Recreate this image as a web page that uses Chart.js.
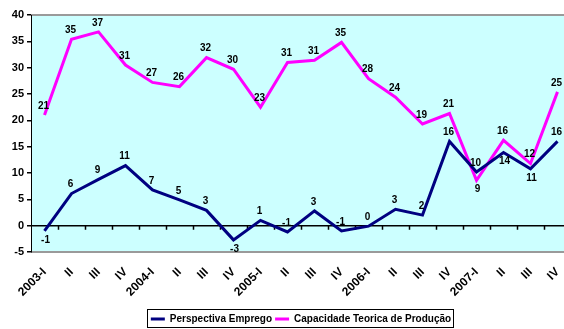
<!DOCTYPE html>
<html lang="pt">
<head>
    <meta charset="UTF-8">
    <title>Perspectiva Emprego / Capacidade Teorica de Produção</title>
    <script src="https://cdn.jsdelivr.net/npm/chart.js"></script>
    <style>
        html, body { margin: 0; padding: 0; background: #fff; overflow: hidden; }
        #wrap { width: 564px; height: 329px; overflow: hidden; }
    </style>
</head>
<body>
    <div id="wrap">
        <canvas id="chart" width="596" height="329"></canvas>
    </div>

    <script>
        // dados
        const quarters = ['2003-I', 'II', 'III', 'IV', '2004-I', 'II', 'III', 'IV', '2005-I', 'II', 'III', 'IV',
                          '2006-I', 'II', 'III', 'IV', '2007-I', 'II', 'III', 'IV'];
        const emprego = [-1.0, 6.1, 8.8, 11.4, 6.8, 4.9, 2.9, -2.7, 1.0, -1.2, 2.8, -1.0,
                         -0.1, 3.1, 2.0, 16.0, 10.2, 13.9, 10.8, 16.0];
        const capacidade = [21.0, 35.4, 36.8, 30.5, 27.2, 26.4, 31.9, 29.7, 22.5, 31.0, 31.4, 34.8,
                            27.9, 24.4, 19.3, 21.3, 8.6, 16.2, 11.8, 25.4];
        const yTicks = [-5, 0, 5, 10, 15, 20, 25, 30, 35, 40];

        Chart.defaults.font.family = "'Liberation Sans', Arial, sans-serif";
        Chart.defaults.font.weight = 'bold';
        Chart.defaults.font.size = 11;
        Chart.defaults.color = '#000';

        // fundo e moldura da area do grafico
        const plotFrame = {
            id: 'plotFrame',
            beforeDraw(chart) {
                const a = chart.chartArea, ctx = chart.ctx;
                ctx.save();
                ctx.fillStyle = '#CCFFFF';
                ctx.fillRect(a.left, a.top, a.right - a.left, a.bottom - a.top);
                ctx.strokeStyle = '#9a9a9a';
                ctx.lineWidth = 2;
                ctx.beginPath();
                ctx.moveTo(a.left, a.top); ctx.lineTo(a.right, a.top);
                ctx.moveTo(a.left, a.bottom); ctx.lineTo(a.right, a.bottom);
                ctx.stroke();
                ctx.restore();
            },
            beforeDatasetsDraw(chart) {
                // marcas do eixo das categorias sobre a linha do zero
                const x = chart.scales.x, y = chart.scales.y, ctx = chart.ctx;
                const y0 = y.getPixelForValue(0);
                ctx.save();
                ctx.strokeStyle = '#000';
                ctx.lineWidth = 1.5;
                ctx.beginPath();
                for (let i = 1; i < quarters.length; i++) {
                    const px = Math.round((x.getPixelForValue(i - 1) + x.getPixelForValue(i)) / 2) + 0.5;
                    ctx.moveTo(px, y0);
                    ctx.lineTo(px, y0 + 4);
                }
                ctx.stroke();
                ctx.restore();
            },
            afterDraw(chart) {
                // caixa da legenda
                const boxes = chart.legend.legendHitBoxes;
                if (!boxes || !boxes.length) return;
                let l = Infinity, r = -Infinity, t = Infinity, b = -Infinity;
                boxes.forEach(h => {
                    l = Math.min(l, h.left); r = Math.max(r, h.left + h.width);
                    t = Math.min(t, h.top); b = Math.max(b, h.top + h.height);
                });
                const ctx = chart.ctx;
                ctx.save();
                ctx.strokeStyle = '#000';
                ctx.lineWidth = 1;
                ctx.strokeRect(Math.round(l) - 3.5, Math.round(t) - 4.5, Math.round(r - l) + 6, Math.round(b - t) + 8);
                ctx.restore();
            }
        };

        // rotulos dos valores
        const valueLabels = {
            id: 'valueLabels',
            afterDatasetsDraw(chart) {
                const ctx = chart.ctx;
                ctx.save();
                ctx.font = "bold 10px 'Liberation Sans', Arial, sans-serif";
                ctx.fillStyle = '#000';
                ctx.textAlign = 'center';
                chart.data.datasets.forEach((ds, di) => {
                    const meta = chart.getDatasetMeta(di);
                    meta.data.forEach((pt, i) => {
                        const txt = String(Math.round(ds.data[i]));
                        if (ds.labelBelow.includes(i)) {
                            ctx.textBaseline = 'top';
                            ctx.fillText(txt, pt.x + 1, pt.y + 4);
                        } else {
                            ctx.textBaseline = 'bottom';
                            ctx.fillText(txt, pt.x - 1, pt.y - 4);
                        }
                    });
                });
                ctx.restore();
            }
        };

        new Chart(document.getElementById('chart'), {
            type: 'line',
            data: {
                labels: quarters,
                datasets: [{
                    label: 'Perspectiva Emprego',
                    data: emprego,
                    borderColor: '#000080',
                    backgroundColor: '#000080',
                    borderWidth: 3,
                    pointRadius: 0,
                    tension: 0,
                    labelBelow: [0, 7, 17, 18]
                }, {
                    label: 'Capacidade Teorica de Produção',
                    data: capacidade,
                    borderColor: '#FF00FF',
                    backgroundColor: '#FF00FF',
                    borderWidth: 3,
                    pointRadius: 0,
                    tension: 0,
                    labelBelow: [16]
                }]
            },
            options: {
                responsive: false,
                animation: false,
                layout: { padding: { top: 15, left: 0, right: 25, bottom: -5 } },
                plugins: {
                    tooltip: { enabled: false },
                    legend: {
                        position: 'bottom',
                        fullSize: false,
                        labels: {
                            boxWidth: 14,
                            boxHeight: 3,
                            padding: 3,
                            font: { size: 10, weight: 'bold' },
                            generateLabels(chart) {
                                return Chart.defaults.plugins.legend.labels.generateLabels(chart)
                                    .map(it => Object.assign(it, { lineWidth: 0 }));
                            }
                        }
                    }
                },
                scales: {
                    x: {
                        offset: true,
                        grid: { display: false },
                        border: { display: false },
                        ticks: { minRotation: 45, maxRotation: 45, autoSkip: false, padding: 5, font: { size: 12 } },
                        afterFit(scale) { scale.height = 59; }
                    },
                    y: {
                        min: -5,
                        max: 40,
                        afterBuildTicks(scale) {
                            scale.ticks = yTicks.map(v => ({ value: v }));
                        },
                        afterFit(scale) { scale.width = 31; },
                        grid: {
                            color: c => (c.tick && c.tick.value === 0 ? '#000' : 'rgba(0,0,0,0)'),
                            tickColor: '#000',
                            tickLength: 4,
                            lineWidth: 1.5
                        },
                        border: { color: '#000', width: 1 },
                        ticks: { padding: 3 }
                    }
                }
            },
            plugins: [plotFrame, valueLabels]
        });
    </script>
</body>
</html>
